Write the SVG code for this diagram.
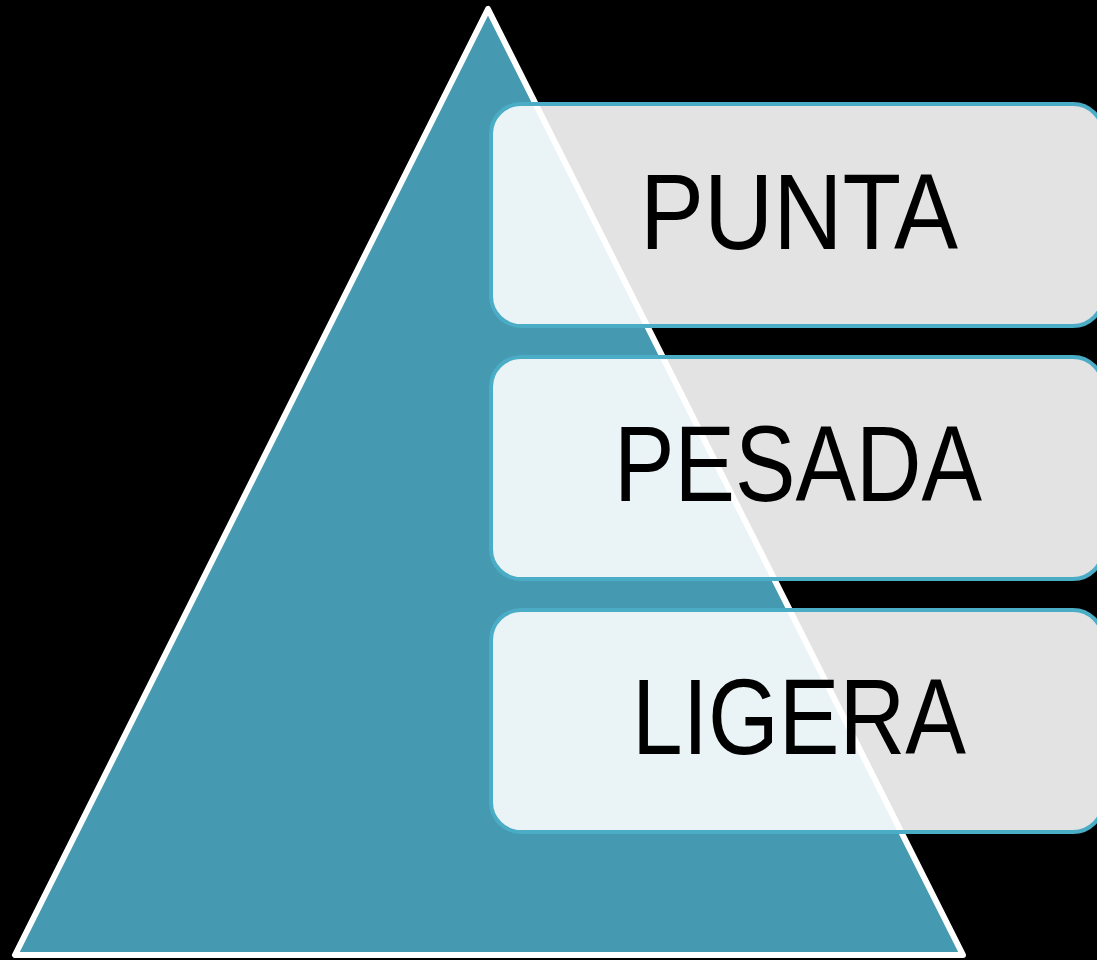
<svg xmlns="http://www.w3.org/2000/svg" width="1097" height="960" viewBox="0 0 1097 960">
<style>
.box{fill:#ffffff;fill-opacity:0.89;stroke:#4BACC6;stroke-width:4}
.lbl{font-family:"Liberation Sans","Open Sans",sans-serif;font-size:108px;fill:#000000;text-anchor:middle}
</style>
<rect x="0" y="0" width="1097" height="960" fill="#000000"/>
<g id="pyramid">
<polygon points="488,9 15,955 963,955" fill="#4599B1" stroke="#ffffff" stroke-width="6" stroke-linejoin="round"/>
</g>
<g id="punta">
<rect class="box" x="491" y="104" width="612" height="222" rx="30"/>
<text class="lbl" x="799" y="249" textLength="318" lengthAdjust="spacingAndGlyphs">PUNTA</text>
</g>
<g id="pesada">
<rect class="box" x="491" y="357" width="612" height="222" rx="30"/>
<text class="lbl" x="798" y="501" textLength="368" lengthAdjust="spacingAndGlyphs">PESADA</text>
</g>
<g id="ligera">
<rect class="box" x="491" y="610" width="612" height="222" rx="30"/>
<text class="lbl" x="799" y="754" textLength="334" lengthAdjust="spacingAndGlyphs">LIGERA</text>
</g>
<g id="connectors"></g>
</svg>
